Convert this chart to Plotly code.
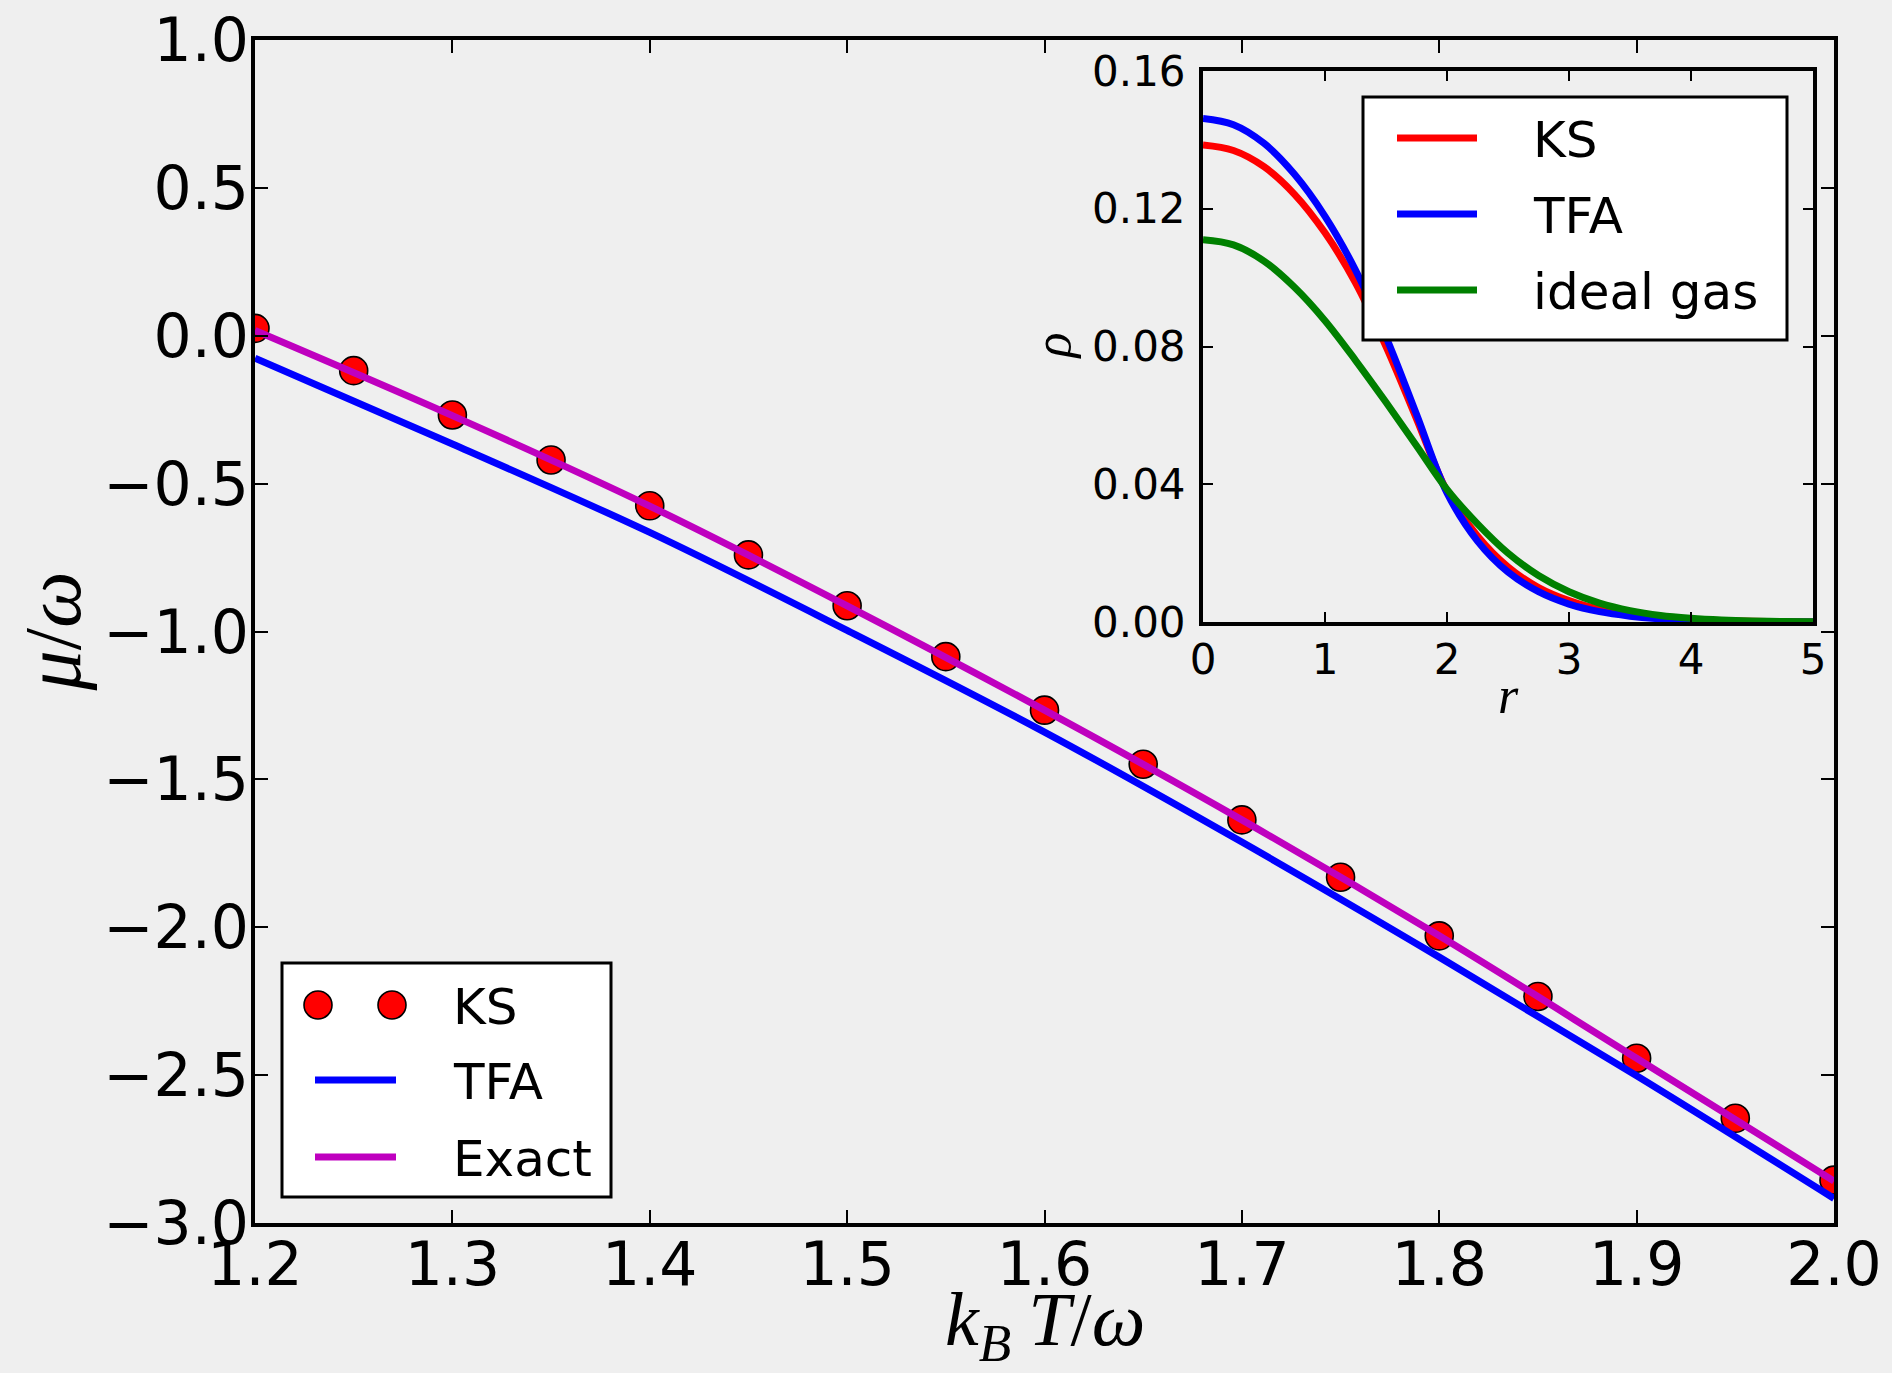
import plotly.graph_objects as go

# ---- main panel: chemical potential vs temperature ----
kT_ks = [1.20, 1.25, 1.30, 1.35, 1.40, 1.45, 1.50, 1.55, 1.60,
         1.65, 1.70, 1.75, 1.80, 1.85, 1.90, 1.95, 2.00]
mu_ks = [0.025, -0.118, -0.268, -0.420, -0.575, -0.741, -0.913, -1.085, -1.266,
         -1.449, -1.637, -1.831, -2.029, -2.234, -2.443, -2.646, -2.855]

kT_line = [1.2, 1.3, 1.4, 1.5, 1.6, 1.7, 1.8, 1.9, 2.0]
mu_tfa = [-0.076, -0.366, -0.665, -0.996, -1.340, -1.712, -2.101, -2.502, -2.917]
mu_exact = [0.018, -0.270, -0.576, -0.913, -1.266, -1.637, -2.029, -2.443, -2.858]

main_xticks = [1.2, 1.3, 1.4, 1.5, 1.6, 1.7, 1.8, 1.9, 2.0]
main_yticks = [1.0, 0.5, 0.0, -0.5, -1.0, -1.5, -2.0, -2.5, -3.0]
main_yticktext = ["1.0", "0.5", "0.0", "\u22120.5", "\u22121.0", "\u22121.5",
                  "\u22122.0", "\u22122.5", "\u22123.0"]

# ---- inset: density profiles ----
r = [0.0, 0.25, 0.5, 0.75, 1.0, 1.25, 1.5, 1.75, 2.0, 2.25, 2.5,
     2.75, 3.0, 3.25, 3.5, 3.75, 4.0, 4.25, 4.5, 4.75, 5.0]
rho_ks = [0.1385, 0.1369, 0.1322, 0.1242, 0.1130, 0.0985, 0.0800, 0.0590, 0.0380,
          0.0250, 0.0160, 0.0100, 0.0062, 0.0037, 0.0022, 0.0012, 0.0007,
          0.0004, 0.0002, 0.0001, 0.0000]
rho_tfa = [0.1462, 0.1444, 0.1390, 0.1300, 0.1178, 0.1022, 0.0828, 0.0603, 0.0375,
           0.0235, 0.0145, 0.0088, 0.0052, 0.0030, 0.0017, 0.0009, 0.0005,
           0.0002, 0.0001, 0.0000, 0.0000]
rho_ideal = [0.1110, 0.1095, 0.1048, 0.0972, 0.0875, 0.0760, 0.0638, 0.0512, 0.0385,
             0.0285, 0.0200, 0.0135, 0.0088, 0.0055, 0.0033, 0.0019, 0.0011,
             0.0006, 0.0003, 0.00015, 0.0001]

inset_xticks = [0, 1, 2, 3, 4, 5]
inset_yticks = [0.00, 0.04, 0.08, 0.12, 0.16]

W, H = 1892, 1373
BG = "#efefef"
SANS = "DejaVu Sans"
SERIF = "Liberation Serif"
LW = 7
RED, BLUE, MAGENTA, GREEN = "#ff0000", "#0000ff", "#bf00bf", "#008000"


def px(xp):
    return xp / W


def py(yp):
    return 1 - yp / H


fig = go.Figure()

fig.add_trace(go.Scatter(
    x=kT_ks, y=mu_ks, mode="markers", name="KS",
    marker=dict(size=28, color=RED, line=dict(color="black", width=1.6)),
    xaxis="x", yaxis="y"))
fig.add_trace(go.Scatter(
    x=kT_line, y=mu_tfa, mode="lines", name="TFA", line_shape="spline",
    line=dict(color=BLUE, width=LW), xaxis="x", yaxis="y"))
fig.add_trace(go.Scatter(
    x=kT_line, y=mu_exact, mode="lines", name="Exact", line_shape="spline",
    line=dict(color=MAGENTA, width=LW), xaxis="x", yaxis="y"))

fig.add_trace(go.Scatter(
    x=r, y=rho_ks, mode="lines", name="KS", line_shape="spline",
    line=dict(color=RED, width=LW), xaxis="x2", yaxis="y2"))
fig.add_trace(go.Scatter(
    x=r, y=rho_tfa, mode="lines", name="TFA", line_shape="spline",
    line=dict(color=BLUE, width=LW), xaxis="x2", yaxis="y2"))
fig.add_trace(go.Scatter(
    x=r, y=rho_ideal, mode="lines", name="ideal gas", line_shape="spline",
    line=dict(color=GREEN, width=LW), xaxis="x2", yaxis="y2"))

axis_common = dict(showgrid=False, zeroline=False, showline=True, linecolor="black",
                   linewidth=4, mirror="ticks", ticks="inside", tickcolor="black",
                   tickwidth=1.5, automargin=False)

main_x0, main_x1 = px(255), px(1834)
main_y0, main_y1 = py(1223), py(40)
ins_x0, ins_x1 = px(1203), px(1813)
ins_y0, ins_y1 = py(622), py(71)

fig.update_layout(
    width=W, height=H,
    margin=dict(l=0, r=0, t=0, b=0),
    paper_bgcolor=BG, plot_bgcolor="rgba(0,0,0,0)",
    font=dict(family=SANS, color="black"),
    showlegend=False,
    xaxis=dict(domain=[main_x0, main_x1], range=[1.2, 2.0], anchor="y",
               tickvals=main_xticks, tickformat=".1f", ticklen=13,
               tickfont=dict(size=60), ticklabelstandoff=-14, **axis_common),
    yaxis=dict(domain=[main_y0, main_y1], range=[-3.0, 1.0], anchor="x",
               tickvals=main_yticks, ticktext=main_yticktext, ticklen=13,
               tickfont=dict(size=60), ticklabelstandoff=-10, **axis_common),
    xaxis2=dict(domain=[ins_x0, ins_x1], range=[0, 5], anchor="y2",
                tickvals=inset_xticks, ticklen=10,
                tickfont=dict(size=42), ticklabelstandoff=-2, **axis_common),
    yaxis2=dict(domain=[ins_y0, ins_y1], range=[0, 0.16], anchor="x2",
                tickvals=inset_yticks, tickformat=".2f", ticklen=10,
                tickfont=dict(size=42), ticklabelstandoff=5, **axis_common),
)


def legend_box(x0, y0, x1, y1, entries, text_x, line_x0, line_x1):
    """Draw a framed key: entries are (label, y, kind, color)."""
    fig.add_shape(type="rect", xref="paper", yref="paper",
                  x0=px(x0), x1=px(x1), y0=py(y1), y1=py(y0),
                  fillcolor="white", line=dict(color="black", width=3), layer="above")
    for label, yc, kind, color in entries:
        if kind == "line":
            fig.add_shape(type="line", xref="paper", yref="paper",
                          x0=px(line_x0), x1=px(line_x1), y0=py(yc), y1=py(yc),
                          line=dict(color=color, width=LW), layer="above")
        else:
            for cx in (line_x0 + 3, line_x1 - 4):
                fig.add_shape(type="circle", xref="paper", yref="paper",
                              xsizemode="pixel", ysizemode="pixel",
                              xanchor=px(cx), yanchor=py(yc),
                              x0=-14, x1=14, y0=-14, y1=14,
                              fillcolor=color, line=dict(color="black", width=1.6),
                              layer="above")
        fig.add_annotation(text=label, xref="paper", yref="paper",
                           x=px(text_x), y=py(yc + 2), xanchor="left", yanchor="middle",
                           showarrow=False, font=dict(family=SANS, size=50))


legend_box(282, 963, 611, 1197,
           [("KS", 1005, "marker", RED), ("TFA", 1080, "line", BLUE),
            ("Exact", 1157, "line", MAGENTA)],
           text_x=451, line_x0=315, line_x1=396)
legend_box(1363, 97, 1787, 340,
           [("KS", 138, "line", RED), ("TFA", 214, "line", BLUE),
            ("ideal gas", 290, "line", GREEN)],
           text_x=1531, line_x0=1397, line_x1=1477)

# axis titles
fig.add_annotation(text="<i>k</i><sub><i>B</i>\u2009</sub>\u200a<i>T</i>/<i>\u03c9</i>",
                   xref="paper", yref="paper", x=(main_x0 + main_x1) / 2, y=py(1325),
                   showarrow=False, font=dict(family=SERIF, size=76),
                   xanchor="center", yanchor="middle")
fig.add_annotation(text="<i>\u03bc</i>/<i>\u03c9</i>",
                   xref="paper", yref="paper", x=px(52), y=(main_y0 + main_y1) / 2,
                   showarrow=False, textangle=-90, font=dict(family=SERIF, size=80),
                   xanchor="center", yanchor="middle")
fig.add_annotation(text="<i>\u03c1</i>",
                   xref="paper", yref="paper", x=px(1052), y=(ins_y0 + ins_y1) / 2,
                   showarrow=False, textangle=-90, font=dict(family=SERIF, size=52),
                   xanchor="center", yanchor="middle")
fig.add_annotation(text="<i>r</i>",
                   xref="paper", yref="paper", x=(ins_x0 + ins_x1) / 2, y=py(695),
                   showarrow=False, font=dict(family=SERIF, size=52),
                   xanchor="center", yanchor="middle")

fig.write_html("out.html")
